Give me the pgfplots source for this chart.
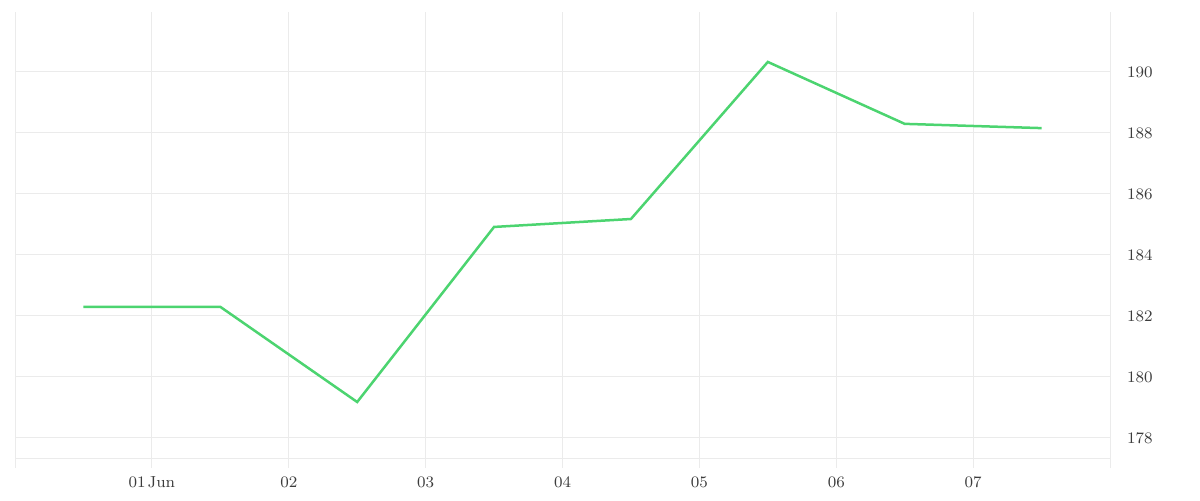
\documentclass[border=0pt]{standalone}
\usepackage{pgfplots}
\pgfplotsset{compat=1.18}
\definecolor{linegreen}{RGB}{76,212,112}
\definecolor{gridgray}{RGB}{235,235,235}
\definecolor{labgray}{RGB}{60,60,60}
\begin{document}
\begin{tikzpicture}
\useasboundingbox (0,0) rectangle (600pt,250pt);
\begin{axis}[
  at={(7.5pt,16pt)}, anchor=south west,
  scale only axis, width=547.5pt, height=228pt,
  xmin=-1, xmax=7, ymin=177.016, ymax=191.967,
  axis line style={draw=none},
  major tick length=0pt,
  xtick={-1,0,1,2,3,4,5,6,7},
  xticklabels={,01\kern1pt Jun,02,03,04,05,06,07,},
  ytick={178,180,182,184,186,188,190},
  extra y ticks={177.344}, extra y tick labels={},
  extra y tick style={grid=major},
  grid=major,
  major grid style={gridgray, line width=0.5pt},
  yticklabel pos=right,
  tick label style={font=\fontsize{8}{9}\selectfont, text=labgray},
  yticklabel style={xshift=5pt},
  xticklabel style={yshift=-1pt},
  clip=false,
]
\addplot[linegreen, line width=1.25pt] coordinates {
  (-0.5,182.30) (0.5,182.30) (1.5,179.18) (2.5,184.92)
  (3.5,185.18) (4.5,190.33) (5.5,188.30) (6.5,188.16)
};
\end{axis}
\end{tikzpicture}
\end{document}
